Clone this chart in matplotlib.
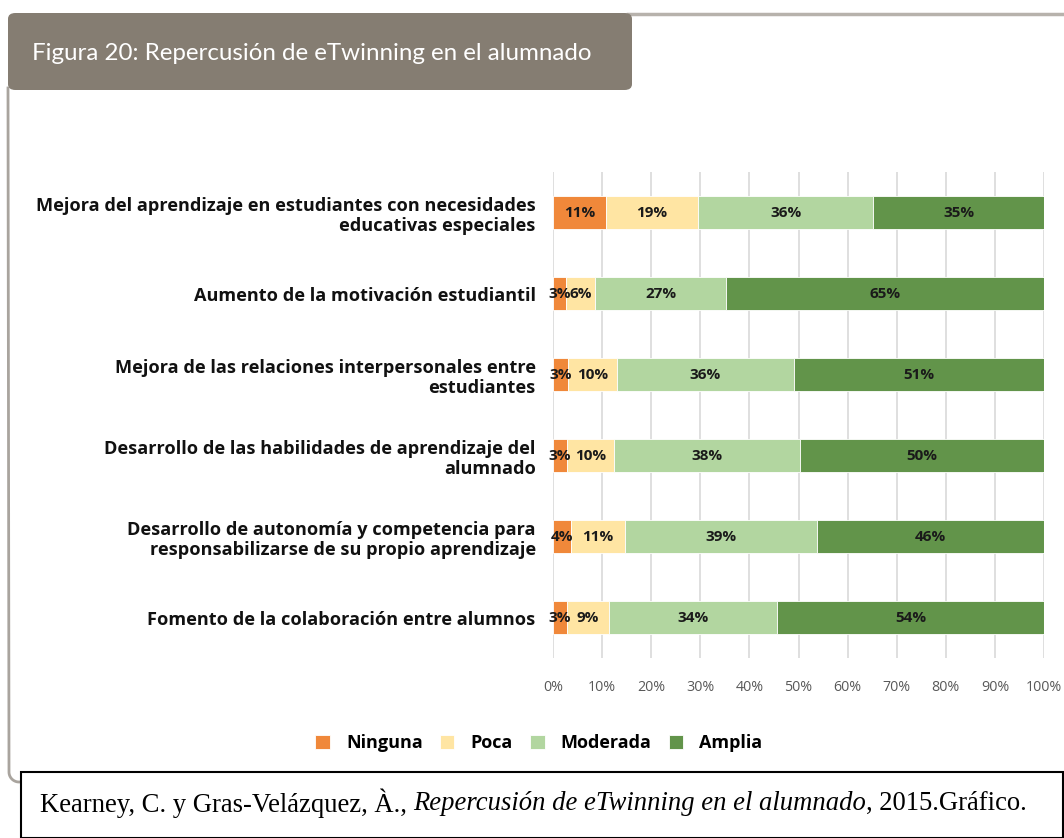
import matplotlib
matplotlib.use("Agg")
import matplotlib.pyplot as plt
from matplotlib.patches import FancyBboxPatch, Rectangle
from matplotlib.lines import Line2D
import numpy as np

categories = [
    "Mejora del aprendizaje en estudiantes con necesidades\neducativas especiales",
    "Aumento de la motivación estudiantil",
    "Mejora de las relaciones interpersonales entre\nestudiantes",
    "Desarrollo de las habilidades de aprendizaje del\nalumnado",
    "Desarrollo de autonomía y competencia para\nresponsabilizarse de su propio aprendizaje",
    "Fomento de la colaboración entre alumnos",
]
series_names = ["Ninguna", "Poca", "Moderada", "Amplia"]
ninguna = [10.8, 2.6, 3.0, 2.9, 3.6, 2.8]
poca = [18.8, 6.0, 10.0, 9.6, 11.1, 8.6]
moderada = [35.6, 26.6, 36.0, 37.8, 39.1, 34.2]
amplia = [34.8, 64.8, 51.0, 49.7, 46.2, 54.4]
xticks = [0, 10, 20, 30, 40, 50, 60, 70, 80, 90, 100]
title = "Figura 20: Repercusión de eTwinning en el alumnado"
colors = ["#F0883A", "#FFE5A3", "#B2D6A0", "#62944A"]

W, H = 1064, 838
fig = plt.figure(figsize=(W / 100, H / 100), dpi=100)

def fx(px):
    return px / W

def fy(py):
    return 1 - py / H

# header box
hdr = FancyBboxPatch((fx(8), fy(90)), fx(624), fy(13) - fy(90),
                     boxstyle="round,pad=0,rounding_size=0.007",
                     transform=fig.transFigure, facecolor="#857D72",
                     edgecolor="none", zorder=2)
fig.patches.append(hdr)
fig.text(fx(32), fy(53), title, color="white", fontsize=17.4,
         family="Lato", va="center", ha="left")
# top rule to right
fig.add_artist(Line2D([fx(628), 1.0], [fy(14), fy(14)], color="#B7B2AC",
                      lw=2.5, transform=fig.transFigure))
# left border with rounded bottom corner
t = np.linspace(np.pi, 1.5 * np.pi, 20)
r = 10
cx, cy = 19, 772
xs = [8] + list(cx + r * np.cos(t)) + [24]
ys = [88] + list(cy - r * np.sin(t)) + [782]
fig.add_artist(Line2D([fx(v) for v in xs], [fy(v) for v in ys], color="#A9A49E",
                      lw=2, transform=fig.transFigure))

# caption box
fig.patches.append(Rectangle((fx(21), fy(838)), fx(1063) - fx(21), fy(772) - fy(838),
                             transform=fig.transFigure, facecolor="white",
                             edgecolor="black", lw=1.5, zorder=3))
cap_fs = 19.2
fig.text(fx(40), fy(803), "Kearney, C. y Gras-Velázquez, À., ", family="Liberation Serif",
         fontsize=cap_fs, va="center", ha="left", zorder=4)
t1 = fig.texts[-1]
fig.canvas.draw()
bb = t1.get_window_extent()
fig.text(bb.x1 / W, fy(803), "Repercusión de eTwinning en el alumnado",
         family="Liberation Serif", style="italic", fontsize=cap_fs, va="center", ha="left", zorder=4)
fig.canvas.draw()
bb2 = fig.texts[-1].get_window_extent()
fig.text(bb2.x1 / W, fy(803), ", 2015.Gráfico.", family="Liberation Serif",
         fontsize=cap_fs, va="center", ha="left", zorder=4)

# chart
ax = fig.add_axes([fx(553), fy(658), fx(1044) - fx(553), fy(172) - fy(658)])
data = [ninguna, poca, moderada, amplia]
y = np.arange(len(categories))
left = np.zeros(len(categories))
for vals, c, name in zip(data, colors, series_names):
    vals = np.array(vals)
    ax.barh(y, vals, left=left, height=0.4, color=c, edgecolor="white",
            linewidth=0.6, label=name, zorder=3)
    for yi, l, v in zip(y, left, vals):
        ax.text(l + v / 2, yi, f"{int(v + 0.5)}%", ha="center", va="center",
                fontsize=11, fontweight="bold", family="Open Sans", color="#1a1a1a", zorder=4)
    left = left + vals

ax.set_xlim(0, 100)
ax.set_ylim(len(categories) - 0.5, -0.5)
ax.set_xticks(xticks)
ax.set_xticklabels([f"{v}%" for v in xticks], fontsize=10.3, family="Open Sans", color="#595959")
ax.set_yticks(y)
ax.set_yticklabels(categories, fontsize=13.1, fontweight="bold", family="Open Sans",
                   color="#111111", linespacing=1.2)
ax.tick_params(axis="y", length=0, pad=12.5)
ax.tick_params(axis="x", length=0, pad=16)
ax.grid(axis="x", color="#D9D9D9", lw=1.2, zorder=0)
for s in ax.spines.values():
    s.set_visible(False)

leg = fig.legend(loc="center", bbox_to_anchor=(fx(539), fy(743)), ncol=4,
                 frameon=False, prop={"family": "Open Sans", "weight": "bold", "size": 13},
                 handlelength=0.8, handleheight=0.8, columnspacing=0.95, handletextpad=0.9)

fig.savefig("out.png", dpi=100)
